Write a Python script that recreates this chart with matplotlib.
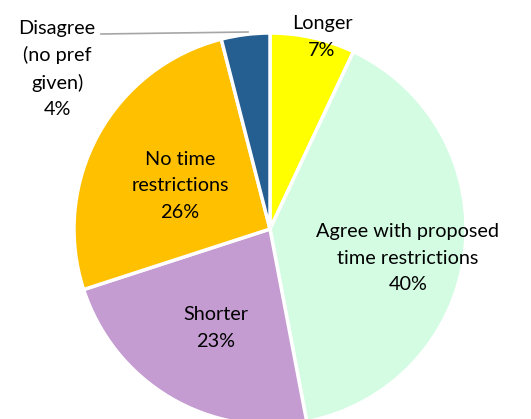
import matplotlib
matplotlib.use("Agg")
from matplotlib import pyplot as plt

# slices, clockwise from 12 o'clock
labels = ["Longer", "Agree with proposed\ntime restrictions", "Shorter",
          "No time\nrestrictions", "Disagree\n(no pref\ngiven)"]
values = [7, 40, 23, 26, 4]
colors = ["#FFFF00", "#D3FCE3", "#C49CD1", "#FFC000", "#255E91"]

plt.rcParams['font.family'] = ['Lato', 'DejaVu Sans']

fig = plt.figure(figsize=(5.31, 4.19), dpi=100)
ax = fig.add_axes([0, 0, 1, 1])

cx, cy, r = 270, 419 - 229, 196
wedges, _ = ax.pie(values, colors=colors, startangle=90, counterclock=False,
                   center=(cx, cy), radius=r, frame=True,
                   wedgeprops=dict(edgecolor='white', linewidth=2.5))
ax.set_xlim(0, 531)
ax.set_ylim(0, 419)
ax.set_aspect('equal')
ax.axis('off')

# label positions in pixels (from top-left)
pos = [(322, 37), (408, 258), (216, 328), (180, 186), (57, 69)]
fs = 14.3
for lab, v, (px, py) in zip(labels, values, pos):
    ax.text(px, 419 - py, lab + "\n" + str(v) + "%", ha='center', va='center',
            fontsize=fs, linespacing=1.65, color='black')

# leader line for the small slice
ax.plot([101, 248], [419 - 34, 419 - 32], color='#A6A6A6', linewidth=1.2)

fig.savefig("out.png", dpi=100)
